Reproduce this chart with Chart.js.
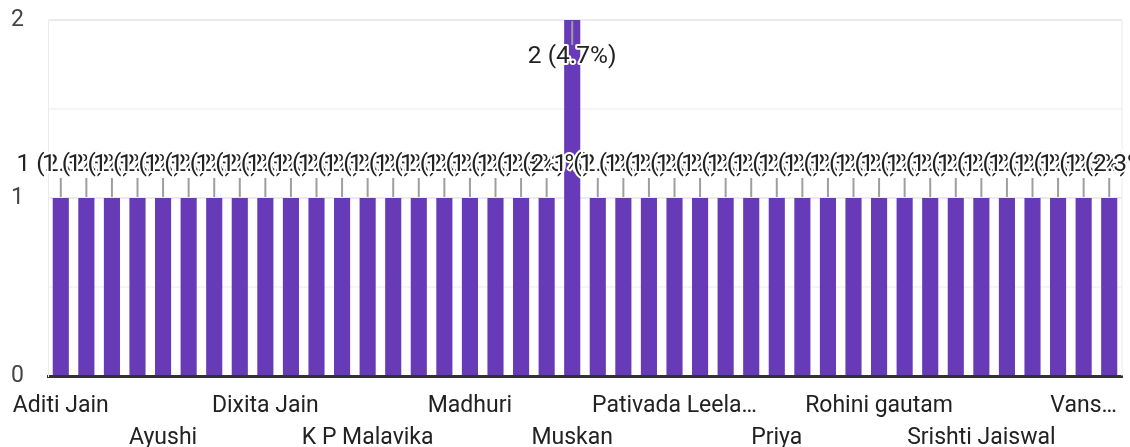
<meta charset="utf8"/>
<style>body{margin:0;background:#fff;} #wrap{width:1130px;height:447px;}</style>
<div id="wrap"><canvas id="_chart" width="1130" height="447"></canvas></div>
<script src="https://cdn.jsdelivr.net/npm/chart.js"></script>
<script>
// responses per name; only every 4th name is printed on the axis, the rest are unreadable
const names = [
	'Aditi Jain', '', '', '',
	'Ayushi', '', '', '',
	'Dixita Jain', '', '', '',
	'K P Malavika', '', '', '',
	'Madhuri', '', '', '',
	'Muskan', '', '', '',
	'Pativada Leela…', '', '', '',
	'Priya', '', '', '',
	'Rohini gautam', '', '', '',
	'Srishti Jaiswal', '', '', '',
	'Vans…', '',
];
const counts = [
	1, 1, 1, 1, 1, 1, 1, 1, 1, 1,
	1, 1, 1, 1, 1, 1, 1, 1, 1, 1,
	2, 1, 1, 1, 1, 1, 1, 1, 1, 1,
	1, 1, 1, 1, 1, 1, 1, 1, 1, 1,
	1, 1,
];
const yTicks = [0, 1, 2];

const FONT = 'Roboto, Arial, sans-serif';
const total = counts.reduce((a, b) => a + b, 0);

// google forms style annotations: leader line + "n (p%)" with white halo
const annotate = {
	id: 'annotate',
	beforeDatasetsDraw(chart) {
		const {ctx, chartArea: a} = chart;
		ctx.save();
		ctx.strokeStyle = '#ebebeb';
		ctx.lineWidth = 1;
		ctx.beginPath();
		ctx.moveTo(a.right, a.top);
		ctx.lineTo(a.right, a.bottom);
		ctx.stroke();
		ctx.restore();
	},
	afterDatasetsDraw(chart) {
		const {ctx, chartArea: a} = chart;
		const meta = chart.getDatasetMeta(0);
		ctx.save();
		ctx.font = '24.5px ' + FONT;
		ctx.textAlign = 'center';
		ctx.textBaseline = 'middle';
		meta.data.forEach((bar, i) => {
			const v = counts[i];
			const txt = v + ' (' + (v / total * 100).toFixed(1) + '%)';
			const up = bar.y - 50 > a.top;
			const y1 = up ? bar.y - 1 : bar.y + 1;
			const y2 = up ? bar.y - 20 : bar.y + 25;
			const ty = up ? bar.y - 33 : bar.y + 37;
			ctx.strokeStyle = '#9e9e9e';
			ctx.lineWidth = 2;
			ctx.beginPath();
			ctx.moveTo(bar.x, y1);
			ctx.lineTo(bar.x, y2);
			ctx.stroke();
			ctx.lineJoin = 'round';
			ctx.strokeStyle = '#fff';
			ctx.lineWidth = 4;
			ctx.strokeText(txt, bar.x, ty);
			ctx.fillStyle = '#222';
			ctx.fillText(txt, bar.x, ty);
		});
		ctx.restore();
	}
};

new Chart(_chart, {
	type: 'bar',
	data: {
		labels: names,
		datasets: [{
			data: counts,
			backgroundColor: '#673ab7',
			categoryPercentage: 1,
			barPercentage: 0.63,
		}]
	},
	options: {
		responsive: false,
		animation: false,
		layout: {padding: {top: 20, right: 8, left: 0, bottom: 0}},
		plugins: {legend: {display: false}, tooltip: {enabled: false}},
		scales: {
			x: {
				grid: {display: false},
				border: {color: '#333', width: 3},
				afterFit: s => { s.height = 71; s.paddingTop = 0; s.paddingBottom = 0; },
				ticks: {
					autoSkip: false,
					maxRotation: 0,
					padding: 6,
					color: '#222',
					font: {family: FONT, size: 23, lineHeight: 1.4},
					callback: (v, i) => names[i] ? (i % 8 ? ['', names[i]] : names[i]) : '',
				},
			},
			y: {
				min: 0,
				max: 2,
				afterFit: s => { s.width = 48; s.paddingTop = 0; s.paddingBottom = 0; },
				grid: {
					drawTicks: false,
					lineWidth: 2,
					color: c => Number.isInteger(c.tick.value) ? '#ebebeb' : '#f5f5f5',
				},
				border: {color: '#ebebeb', width: 1},
				ticks: {
					stepSize: 0.5,
					padding: 24,
					color: '#444',
					font: {family: FONT, size: 23},
					callback: v => yTicks.includes(v) ? v : '',
				},
			},
		},
	},
	plugins: [annotate],
});
</script>
